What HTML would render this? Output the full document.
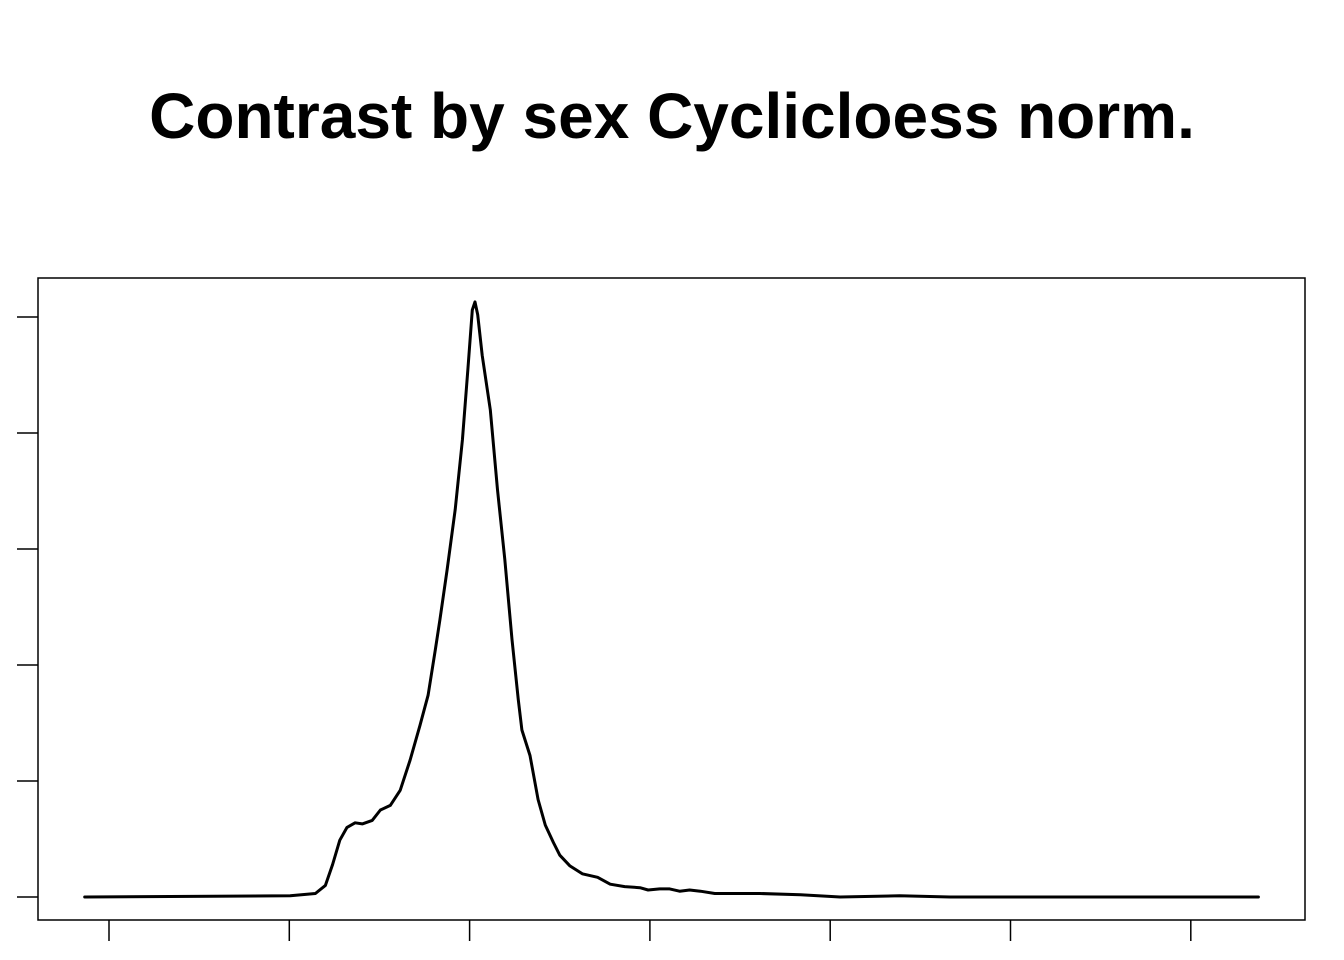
<!DOCTYPE html>
<html><head><meta charset="utf-8"><style>
body{margin:0;background:#fff}
svg{display:block}
</style></head><body>
<svg id="chart" width="1344" height="960" xmlns="http://www.w3.org/2000/svg">
<text x="672" y="138" text-anchor="middle" font-family="Liberation Sans, sans-serif" font-weight="bold" font-size="64">Contrast by sex Cyclicloess norm.</text>
<rect x="38" y="278" width="1267" height="642" fill="none" stroke="#000" stroke-width="1.5"/>
<g id="axes"></g>
<g id="series"></g>
</svg>
<script>
const xTicks=[-6,-4,-2,0,2,4,6];
const yTicks=[0,0.1,0.2,0.3,0.4,0.5];
const xs=[-6.27,-3.99,-3.71,-3.60,-3.52,-3.44,-3.36,-3.27,-3.19,-3.08,-2.99,-2.88,-2.77,-2.66,-2.55,-2.46,-2.38,-2.33,-2.25,-2.16,-2.08,-2.02,-1.97,-1.94,-1.91,-1.86,-1.77,-1.69,-1.61,-1.53,-1.46,-1.42,-1.33,-1.24,-1.16,-1.07,-1.00,-0.89,-0.75,-0.58,-0.44,-0.28,-0.11,-0.02,0.11,0.22,0.33,0.44,0.56,0.72,1.0,1.22,1.67,2.11,2.77,3.33,3.88,4.99,6.75];
const ys=[0,0.001,0.003,0.010,0.028,0.049,0.060,0.064,0.063,0.066,0.075,0.079,0.092,0.118,0.148,0.174,0.213,0.239,0.282,0.334,0.394,0.454,0.506,0.513,0.502,0.467,0.420,0.351,0.291,0.222,0.170,0.144,0.122,0.084,0.062,0.047,0.036,0.027,0.020,0.017,0.011,0.009,0.008,0.006,0.007,0.007,0.005,0.006,0.005,0.003,0.003,0.003,0.002,0,0.001,0,0,0,0];
const NS="http://www.w3.org/2000/svg";
function sx(v){return 109+(v+6)*90.15;}
function sy(v){return 897-v*1160;}
const axes=document.getElementById('axes');
xTicks.forEach(t=>{
  const l=document.createElementNS(NS,'line');
  l.setAttribute('x1',sx(t));l.setAttribute('x2',sx(t));
  l.setAttribute('y1',920);l.setAttribute('y2',941);
  l.setAttribute('stroke','#000');l.setAttribute('stroke-width','1.5');
  
  
  axes.appendChild(l);
});
yTicks.forEach(t=>{
  const l=document.createElementNS(NS,'line');
  l.setAttribute('x1',17);l.setAttribute('x2',38);
  l.setAttribute('y1',sy(t));l.setAttribute('y2',sy(t));
  l.setAttribute('stroke','#000');l.setAttribute('stroke-width','1.5');
  
  
  axes.appendChild(l);
});
const p=document.createElementNS(NS,'polyline');
p.setAttribute('points',xs.map((x,i)=>sx(x).toFixed(1)+','+sy(ys[i]).toFixed(1)).join(' '));
p.setAttribute('fill','none');p.setAttribute('stroke','#000');p.setAttribute('stroke-width','3');
p.setAttribute('stroke-linejoin','round');p.setAttribute('stroke-linecap','round');


document.getElementById('series').appendChild(p);
</script>
</body></html>
